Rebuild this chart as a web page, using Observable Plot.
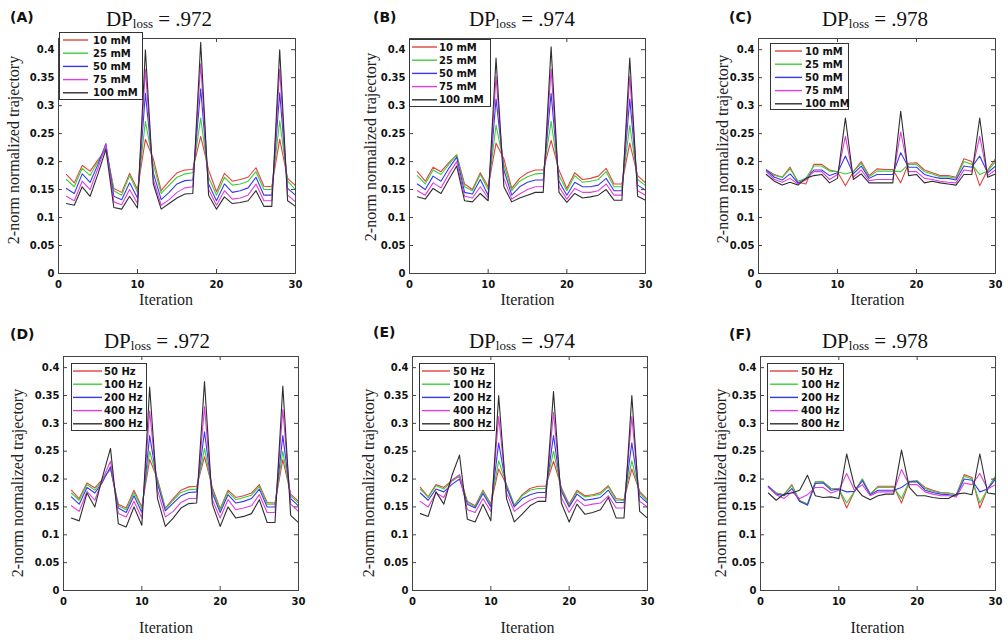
<!DOCTYPE html>
<html><head><meta charset="utf-8">
<script src="https://cdn.jsdelivr.net/npm/d3@7"></script>
<script src="https://cdn.jsdelivr.net/npm/@observablehq/plot@0.6"></script>
<style>
html,body{margin:0;padding:0;background:#fff;}
#wrap{position:relative;width:1008px;height:644px;overflow:hidden;background:#fff;}
#wrap > svg{position:absolute;}
</style></head><body><div id="wrap"></div>
<script>
// ---------- data ----------
const iterations = [1,2,3,4,5,6,7,8,9,10,11,12,13,14,15,16,17,18,19,20,21,22,23,24,25,26,27,28,29,30];
const concLabels = ["10 mM","25 mM","50 mM","75 mM","100 mM"];
const freqLabels = ["50 Hz","100 Hz","200 Hz","400 Hz","800 Hz"];
const lineColors = ["#e3423d","#3ccf3c","#3838ee","#e03de0","#2e2e2e"];
const yTicks = [0,0.05,0.1,0.15,0.2,0.25,0.3,0.35,0.4];
const xTicks = [0,10,20,30];
const panelTags = ["(A)","(B)","(C)","(D)","(E)","(F)"];
const dpValues = [".972",".974",".978",".972",".974",".978"];

const seriesA = [
 [.177,.162,.193,.183,.203,.222,.152,.145,.179,.150,.240,.205,.148,.165,.180,.185,.186,.245,.185,.146,.179,.165,.168,.172,.189,.156,.155,.240,.170,.157],
 [.168,.155,.188,.175,.200,.225,.148,.140,.175,.145,.272,.195,.143,.158,.172,.178,.180,.278,.172,.140,.172,.158,.160,.165,.182,.150,.150,.273,.165,.150],
 [.152,.143,.178,.163,.195,.232,.138,.132,.162,.135,.322,.180,.132,.145,.160,.166,.167,.330,.160,.130,.160,.145,.148,.153,.172,.140,.140,.323,.152,.140],
 [.138,.130,.165,.150,.188,.230,.128,.123,.150,.125,.365,.168,.122,.132,.145,.153,.155,.375,.150,.122,.148,.133,.135,.140,.160,.130,.130,.365,.140,.128],
 [.125,.122,.155,.138,.178,.222,.118,.115,.138,.117,.400,.160,.115,.125,.135,.142,.143,.413,.140,.115,.137,.125,.127,.130,.148,.120,.120,.400,.130,.120]
];
const seriesB = [
 [.182,.165,.190,.182,.198,.212,.160,.150,.180,.155,.233,.205,.152,.170,.180,.185,.185,.238,.185,.152,.180,.168,.170,.174,.188,.160,.160,.233,.175,.162],
 [.175,.160,.185,.177,.195,.212,.155,.148,.177,.150,.265,.195,.148,.165,.173,.178,.179,.272,.175,.148,.175,.163,.165,.168,.182,.155,.155,.265,.168,.157],
 [.160,.150,.174,.165,.188,.208,.145,.142,.168,.140,.312,.185,.140,.155,.163,.167,.167,.322,.165,.140,.163,.155,.155,.158,.170,.148,.148,.312,.158,.149],
 [.148,.140,.162,.153,.178,.200,.138,.135,.155,.135,.352,.170,.133,.142,.150,.155,.155,.365,.155,.133,.152,.145,.145,.148,.160,.140,.140,.352,.148,.140],
 [.137,.133,.152,.143,.168,.192,.130,.128,.143,.130,.385,.155,.128,.135,.140,.145,.145,.405,.145,.127,.143,.135,.137,.140,.150,.131,.131,.385,.138,.131]
];
const seriesC = [
 [.185,.177,.172,.190,.163,.160,.195,.195,.185,.182,.157,.182,.200,.175,.187,.186,.186,.162,.197,.198,.185,.180,.175,.175,.172,.205,.200,.157,.185,.205],
 [.185,.175,.172,.187,.165,.170,.192,.192,.183,.182,.178,.182,.197,.173,.183,.183,.183,.182,.195,.195,.182,.178,.173,.173,.170,.200,.195,.177,.183,.200],
 [.185,.172,.167,.178,.162,.168,.185,.185,.175,.180,.210,.178,.192,.170,.177,.177,.177,.216,.190,.190,.177,.173,.170,.170,.167,.192,.190,.210,.180,.192],
 [.182,.168,.163,.170,.160,.168,.182,.182,.168,.177,.245,.172,.185,.166,.168,.168,.168,.253,.182,.182,.170,.168,.165,.163,.162,.185,.183,.245,.175,.185],
 [.177,.165,.158,.163,.158,.170,.175,.177,.162,.170,.278,.168,.178,.162,.162,.162,.162,.290,.175,.177,.162,.165,.162,.160,.158,.177,.177,.278,.172,.178]
];
const seriesD = [
 [.180,.165,.193,.184,.200,.218,.155,.148,.180,.150,.235,.200,.148,.165,.180,.186,.187,.240,.185,.147,.180,.167,.170,.175,.190,.158,.157,.235,.173,.160],
 [.175,.162,.190,.180,.198,.220,.152,.145,.176,.147,.250,.198,.146,.162,.176,.181,.182,.255,.180,.145,.177,.163,.167,.171,.187,.155,.155,.250,.170,.157],
 [.168,.155,.185,.175,.195,.222,.148,.140,.170,.140,.278,.192,.143,.157,.170,.176,.177,.285,.175,.140,.172,.157,.160,.165,.182,.150,.150,.278,.165,.152],
 [.152,.142,.178,.162,.200,.232,.138,.132,.160,.130,.322,.180,.132,.142,.158,.165,.165,.330,.163,.130,.163,.145,.148,.152,.172,.140,.140,.325,.155,.142],
 [.130,.125,.175,.150,.205,.255,.120,.114,.150,.117,.365,.165,.115,.130,.148,.156,.157,.375,.155,.115,.150,.130,.133,.138,.163,.122,.122,.367,.135,.122]
];
const seriesE = [
 [.185,.168,.190,.185,.197,.207,.160,.152,.180,.155,.218,.190,.153,.172,.183,.187,.187,.232,.185,.155,.180,.170,.172,.176,.188,.165,.163,.218,.178,.163],
 [.182,.167,.188,.182,.196,.205,.158,.150,.178,.153,.233,.190,.152,.170,.180,.183,.183,.250,.182,.152,.177,.168,.170,.173,.186,.162,.162,.233,.175,.160],
 [.175,.162,.182,.177,.190,.200,.155,.148,.174,.150,.265,.185,.150,.165,.172,.176,.176,.278,.178,.150,.173,.162,.164,.167,.180,.158,.158,.265,.170,.157],
 [.160,.150,.175,.167,.198,.208,.145,.140,.165,.142,.312,.175,.142,.153,.162,.167,.167,.320,.167,.140,.163,.152,.155,.157,.170,.148,.148,.312,.160,.150],
 [.138,.133,.177,.155,.205,.243,.128,.123,.155,.125,.350,.165,.123,.137,.152,.160,.160,.357,.157,.123,.155,.137,.140,.145,.167,.130,.130,.350,.142,.130]
];
const seriesF = [
 [.187,.175,.172,.190,.160,.155,.195,.195,.183,.182,.148,.178,.200,.173,.187,.187,.187,.157,.195,.197,.185,.180,.176,.175,.172,.208,.203,.148,.183,.205],
 [.187,.175,.172,.188,.162,.155,.195,.195,.183,.182,.157,.178,.200,.173,.185,.185,.185,.165,.196,.197,.183,.178,.175,.175,.172,.205,.200,.157,.182,.205],
 [.187,.173,.170,.183,.160,.153,.192,.193,.180,.182,.177,.178,.197,.172,.180,.180,.180,.185,.195,.195,.180,.176,.173,.172,.170,.200,.198,.177,.182,.200],
 [.185,.172,.165,.177,.165,.172,.185,.185,.175,.180,.210,.180,.190,.170,.177,.177,.177,.217,.190,.190,.177,.173,.170,.170,.168,.193,.190,.210,.182,.190],
 [.175,.162,.173,.175,.180,.207,.170,.167,.168,.165,.245,.187,.170,.163,.170,.173,.173,.252,.185,.170,.170,.167,.165,.165,.173,.175,.172,.245,.175,.173]
];

// ---------- layout ----------
const panels = [
 {series: seriesA, labels: concLabels, l:58,  r:295, t:38,  b:273, tagX:10,  tagY:22,  titleX:159, titleY:26,  ylX:13,  ylY:150, xlX:166,   xlY:305, lg:{l:59, t:32, w:83, h:67, x1:4, x2:29, tx:34}},
 {series: seriesB, labels: concLabels, l:409, r:645, t:38,  b:273, tagX:373, tagY:22,  titleX:522, titleY:26,  ylX:370, ylY:147, xlX:527.5, xlY:305, lg:{l:409,t:39, w:81, h:67, x1:3, x2:28, tx:30}},
 {series: seriesC, labels: concLabels, l:758, r:995, t:38,  b:273, tagX:729, tagY:22,  titleX:875, titleY:26,  ylX:722, ylY:149, xlX:877.5, xlY:305, lg:{l:770,t:43, w:78, h:66, x1:5, x2:32, tx:35}},
 {series: seriesD, labels: freqLabels, l:63,  r:298, t:356, b:590, tagX:10,  tagY:339, titleX:157, titleY:348, ylX:17,  ylY:483, xlX:166,   xlY:633, lg:{l:71, t:363,w:75, h:67, x1:2, x2:31, tx:33}},
 {series: seriesE, labels: freqLabels, l:412, r:647, t:356, b:590, tagX:373, tagY:337, titleX:522, titleY:348, ylX:368, ylY:483, xlX:527.5, xlY:633, lg:{l:419,t:363,w:75, h:67, x1:3, x2:31, tx:34}},
 {series: seriesF, labels: freqLabels, l:760, r:995, t:356, b:590, tagX:729, tagY:339, titleX:875, titleY:348, ylX:720, ylY:483, xlX:877.5, xlY:633, lg:{l:767,t:363,w:76, h:67, x1:3, x2:31, tx:34}}
];

const wrap = document.getElementById("wrap");
const fmt = d => String(+d.toFixed(2));
const ML = 60, MR = 12, MT = 10, MB = 30;

panels.forEach(p => {
  const fw = p.r - p.l, fh = p.b - p.t;
  const rows = [];
  p.series.forEach((vals, i) => vals.forEach((v, j) => rows.push({it: iterations[j], v, s: p.labels[i]})));
  const chart = Plot.plot({
    width: fw + ML + MR, height: fh + MT + MB,
    marginLeft: ML, marginRight: MR, marginTop: MT, marginBottom: MB,
    style: {background: "transparent", fontFamily: "DejaVu Sans", fontWeight: "bold", fontSize: "10px", color: "#111"},
    x: {domain: [0, 30]},
    y: {domain: [0, 0.42]},
    color: {domain: p.labels, range: lineColors},
    marks: [
      Plot.line(rows, {x: "it", y: "v", stroke: "s", z: "s", strokeWidth: 1.1}),
      Plot.tickY(yTicks, {y: d => d, insetRight: fw - 4, stroke: "#444"}),
      Plot.tickY(yTicks, {y: d => d, insetLeft: fw - 4, stroke: "#444"}),
      Plot.tickX(xTicks, {x: d => d, insetTop: fh - 4, stroke: "#444"}),
      Plot.tickX(xTicks, {x: d => d, insetBottom: fh - 4, stroke: "#444"}),
      Plot.axisY({ticks: yTicks, tickSize: 0, tickPadding: 4, tickFormat: fmt, label: null}),
      Plot.axisX({ticks: xTicks, tickSize: 0, tickPadding: 7, tickFormat: d => String(d), label: null}),
      Plot.frame({stroke: "#444"})
    ]
  });
  chart.style.left = (p.l - ML) + "px";
  chart.style.top = (p.t - MT) + "px";
  wrap.appendChild(chart);
});

// ---------- overlay text and legends ----------
const ov = d3.create("svg").attr("width", 1008).attr("height", 644)
  .style("left", "0px").style("top", "0px").style("pointer-events", "none");
panels.forEach((p, i) => {
  ov.append("text").attr("x", p.tagX).attr("y", p.tagY)
    .attr("font-family", "DejaVu Sans").attr("font-weight", "bold").attr("font-size", 14).attr("fill", "#111")
    .text(panelTags[i]);
  const t = ov.append("text").attr("x", p.titleX).attr("y", p.titleY).attr("text-anchor", "middle")
    .attr("font-family", "Liberation Serif").attr("font-size", 21).attr("fill", "#111").style("white-space", "pre");
  t.append("tspan").text("DP");
  t.append("tspan").attr("font-size", 13).attr("dy", 2).text("loss");
  t.append("tspan").attr("dy", -2).text(" = " + dpValues[i]);
  ov.append("text").attr("transform", `translate(${p.ylX},${p.ylY}) rotate(-90)`)
    .attr("text-anchor", "middle").attr("dominant-baseline", "central")
    .attr("font-family", "Liberation Serif").attr("font-size", 16).attr("fill", "#222")
    .text("2-norm normalized trajectory");
  ov.append("text").attr("x", p.xlX).attr("y", p.xlY).attr("text-anchor", "middle")
    .attr("font-family", "Liberation Serif").attr("font-size", 16).attr("fill", "#222")
    .text("Iteration");
  const g = ov.append("g").attr("transform", `translate(${p.lg.l},${p.lg.t})`);
  g.append("rect").attr("x", 0.5).attr("y", 0.5).attr("width", p.lg.w).attr("height", p.lg.h)
    .attr("fill", "#fff").attr("stroke", "#333").attr("stroke-width", 1);
  p.labels.forEach((lab, k) => {
    const yy = 8 + k * 13.2;
    g.append("line").attr("x1", p.lg.x1).attr("x2", p.lg.x2).attr("y1", yy).attr("y2", yy)
      .attr("stroke", lineColors[k]).attr("stroke-width", 1.4);
    g.append("text").attr("x", p.lg.tx).attr("y", yy).attr("dominant-baseline", "central")
      .attr("font-family", "DejaVu Sans").attr("font-weight", "bold").attr("font-size", 10).attr("fill", "#111")
      .text(lab);
  });
});
wrap.appendChild(ov.node());
</script>
</body></html>
